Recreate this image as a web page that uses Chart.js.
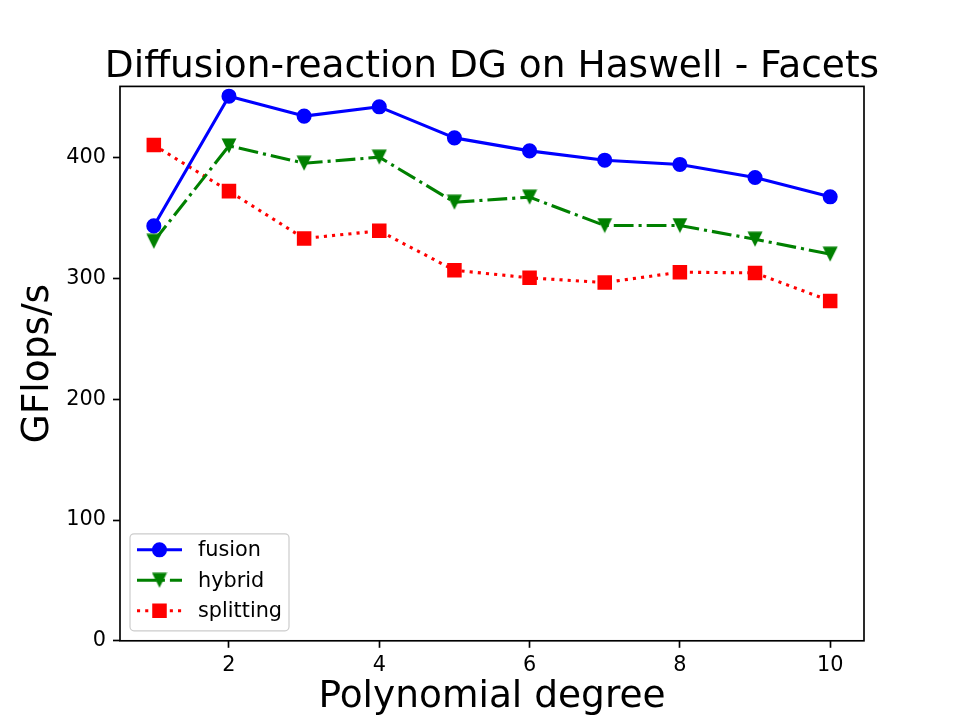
<!DOCTYPE html>
<html>
<head>
<meta charset="utf-8">
<script src="https://cdn.jsdelivr.net/npm/chart.js@4"></script>
<style>
  html, body { margin: 0; padding: 0; background: #fff; }
</style>
</head>
<body>
<canvas id="grafico" width="960" height="720"></canvas>
<script>
// dados
const degrees = [1, 2, 3, 4, 5, 6, 7, 8, 9, 10];
const fusion = [343.5, 450.9, 434.4, 442.1, 416.4, 405.6, 397.9, 394.4, 383.6, 367.6];
const hybrid = [330.7, 409.8, 395.4, 400.4, 363.1, 367.3, 343.8, 343.8, 332.5, 320.1];
const splitting = [410.4, 372.3, 333.1, 339.4, 306.8, 300.5, 296.6, 305.2, 304.6, 281.4];
const xTicks = [2, 4, 6, 8, 10];
const yTicks = [0, 100, 200, 300, 400];

const FONT = '"DejaVu Sans", "Liberation Sans", sans-serif';

// marcador triangulo para baixo (como o 'v' do matplotlib)
const trianguloBaixo = document.createElement('canvas');
trianguloBaixo.width = 16;
trianguloBaixo.height = 16;
const tctx = trianguloBaixo.getContext('2d');
tctx.beginPath();
tctx.moveTo(0.5, 0.5);
tctx.lineTo(15.5, 0.5);
tctx.lineTo(8, 15.5);
tctx.closePath();
tctx.fillStyle = '#008000';
tctx.fill();

function pontos(valores) {
    return degrees.map((d, i) => ({ x: d, y: valores[i] }));
}

const titlePlugin = {
    id: 'figTitle',
    afterDraw(chart) {
        const { ctx, chartArea } = chart;
        ctx.save();
        ctx.font = '37.5px ' + FONT;
        ctx.fillStyle = '#000';
        ctx.textAlign = 'center';
        ctx.textBaseline = 'alphabetic';
        ctx.fillText('Diffusion-reaction DG on Haswell - Facets', (chartArea.left + chartArea.right) / 2, 77);
        ctx.restore();
    }
};

const framePlugin = {
    id: 'frame',
    afterDatasetsDraw(chart) {
        const { ctx, chartArea } = chart;
        ctx.save();
        ctx.strokeStyle = '#000';
        ctx.lineWidth = 1.67;
        ctx.strokeRect(chartArea.left, chartArea.top, chartArea.right - chartArea.left, chartArea.bottom - chartArea.top);
        ctx.restore();
    }
};

const legendPlugin = {
    id: 'mplLegend',
    afterDraw(chart) {
        const { ctx, chartArea } = chart;
        const w = 159, h = 97;
        const x0 = chartArea.left + 10;
        const y0 = chartArea.bottom - 10 - h;
        ctx.save();
        ctx.beginPath();
        ctx.roundRect(x0, y0, w, h, 4);
        ctx.fillStyle = 'rgba(255,255,255,0.8)';
        ctx.fill();
        ctx.strokeStyle = '#cccccc';
        ctx.lineWidth = 1.2;
        ctx.stroke();

        chart.data.datasets.forEach((ds, i) => {
            const y = y0 + 16 + i * 30.5;
            ctx.beginPath();
            ctx.setLineDash(ds.borderDash || []);
            ctx.strokeStyle = ds.borderColor;
            ctx.lineWidth = ds.borderWidth;
            ctx.moveTo(x0 + 7, y);
            ctx.lineTo(x0 + 52, y);
            ctx.stroke();
            ctx.setLineDash([]);
            ctx.fillStyle = ds.pointBackgroundColor;
            ctx.strokeStyle = ds.pointBorderColor;
            ctx.lineWidth = ds.pointBorderWidth;
            Chart.helpers.drawPoint(ctx, {
                pointStyle: ds.pointStyle,
                radius: ds.pointRadius,
                borderWidth: ds.pointBorderWidth,
                rotation: 0
            }, x0 + 29.5, y);
            ctx.fillStyle = '#000';
            ctx.font = '20.8px ' + FONT;
            ctx.textAlign = 'left';
            ctx.textBaseline = 'middle';
            ctx.fillText(ds.label, x0 + 68, y + 1);
        });
        ctx.restore();
    }
};

const ctx = document.getElementById('grafico').getContext('2d');
new Chart(ctx, {
    type: 'line',
    data: {
        datasets: [
            {
                label: 'fusion',
                data: pontos(fusion),
                borderColor: '#0000ff',
                borderWidth: 3.1,
                borderJoinStyle: 'round',
                pointStyle: 'circle',
                pointRadius: 6.5,
                pointBorderWidth: 2.08,
                pointBackgroundColor: '#0000ff',
                pointBorderColor: '#0000ff'
            },
            {
                label: 'hybrid',
                data: pontos(hybrid),
                borderColor: '#008000',
                borderWidth: 3.1,
                borderDash: [19.8, 5, 3.1, 5],
                pointStyle: trianguloBaixo,
                pointRadius: 8,
                pointBorderWidth: 0,
                pointBackgroundColor: '#008000',
                pointBorderColor: '#008000'
            },
            {
                label: 'splitting',
                data: pontos(splitting),
                borderColor: '#ff0000',
                borderWidth: 3.1,
                borderDash: [3.1, 5.1],
                pointStyle: 'rect',
                pointRadius: 8.8,
                pointBorderWidth: 2.08,
                pointBackgroundColor: '#ff0000',
                pointBorderColor: '#ff0000'
            }
        ]
    },
    options: {
        responsive: false,
        animation: false,
        devicePixelRatio: 1,
        layout: { padding: { top: 86.4, right: 96, left: 0, bottom: 0 } },
        plugins: {
            legend: { display: false },
            title: { display: false },
            tooltip: { enabled: false }
        },
        scales: {
            x: {
                type: 'linear',
                min: 0.55,
                max: 10.45,
                afterBuildTicks: axis => { axis.ticks = xTicks.map(v => ({ value: v })); },
                afterFit: axis => { axis.height = 79.2; },
                grid: { display: true, drawOnChartArea: false, drawTicks: true, tickLength: 7, tickWidth: 1.67, tickColor: '#000' },
                border: { display: false },
                ticks: { color: '#000', font: { family: FONT, size: 20.8 }, padding: 5, maxRotation: 0 },
                title: {
                    display: true,
                    text: 'Polynomial degree',
                    color: '#000',
                    font: { family: FONT, size: 37.5, lineHeight: 1.2 },
                    padding: { top: 0, bottom: 0 }
                }
            },
            y: {
                min: 0,
                max: 459,
                afterBuildTicks: axis => { axis.ticks = yTicks.map(v => ({ value: v })); },
                afterFit: axis => { axis.width = 120; },
                grid: { display: true, drawOnChartArea: false, drawTicks: true, tickLength: 7, tickWidth: 1.67, tickColor: '#000' },
                border: { display: false },
                ticks: { color: '#000', font: { family: FONT, size: 20.8 }, padding: 7 },
                title: {
                    display: true,
                    text: 'GFlops/s',
                    color: '#000',
                    font: { family: FONT, size: 37.5, lineHeight: 1.2 },
                    padding: { top: 16, bottom: 0 }
                }
            }
        }
    },
    plugins: [framePlugin, legendPlugin, titlePlugin]
});
</script>
</body>
</html>
